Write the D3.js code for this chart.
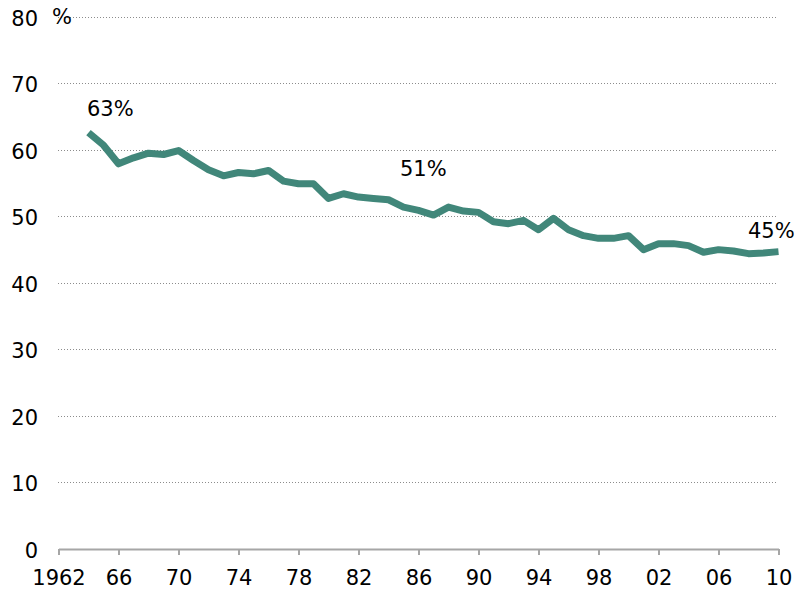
<!DOCTYPE html>
<html><head><meta charset="utf-8">
<script src="https://cdn.jsdelivr.net/npm/d3@7"></script>
<style>body{margin:0;background:#fff}svg{display:block}text{font-family:"DejaVu Sans",Verdana,sans-serif;fill:#000}</style>
</head><body><svg id="c" width="796" height="591"></svg>
<script>
const years = d3.range(1964, 2011);
const values = [62.6,60.7,57.9,58.8,59.5,59.3,59.9,58.4,57.0,56.1,56.6,56.4,56.9,55.3,54.9,
  54.9,52.7,53.4,52.9,52.7,52.5,51.4,50.9,50.2,51.4,50.8,50.6,49.2,48.9,49.4,48.0,
  49.7,48.0,47.1,46.7,46.7,47.1,45.0,45.9,45.9,45.6,44.6,45.0,44.8,44.4,44.5,44.7];
const xTicks = d3.range(1962, 2011, 4);
const xTickLabels = ["1962","66","70","74","78","82","86","90","94","98","02","06","10"];
const yTicks = [0,10,20,30,40,50,60,70,80];
const annotations = [{label:"63%", year:1964, value:63}, {label:"51%", year:1987, value:51}, {label:"45%", year:2009, value:45}];

const svg = d3.select("#c");
const x = d3.scaleLinear().domain([1962, 2010]).range([58.5, 778.5]);
const y = d3.scaleLinear().domain([0, 80]).range([549, 16.8]);

// gridlines
svg.append("g").selectAll("line").data(yTicks.filter(d => d > 0)).join("line")
  .attr("x1", 58).attr("x2", 778).attr("y1", d => Math.round(y(d)) + 0.5).attr("y2", d => Math.round(y(d)) + 0.5)
  .attr("stroke", "#8c8c8c").attr("stroke-width", 1).attr("stroke-dasharray", "1,2");

// y tick labels
svg.append("g").selectAll("text").data(yTicks).join("text")
  .attr("x", 38).attr("y", d => y(d) + 9).attr("text-anchor", "end")
  .style("font-size", "21px").text(d => d);

svg.append("text").attr("x", 52).attr("y", 24).style("font-size", "21px").text("%");

// x axis
const xAxis = d3.axisBottom(x).tickValues(xTicks).tickSize(6).tickSizeOuter(0)
  .tickFormat((d, i) => xTickLabels[i]);
const gx = svg.append("g").attr("transform", "translate(0,549)").call(xAxis);
gx.select(".domain").attr("stroke", "#a6a6a6").attr("stroke-width", 2);
gx.selectAll(".tick line").attr("stroke", "#a6a6a6").attr("stroke-width", 2);
gx.selectAll(".tick text").attr("y", 36).attr("dy", "0")
  .style("font-size", "21px").style("font-family", "'DejaVu Sans',Verdana,sans-serif").attr("fill", "#000");

// line
const line = d3.line().x((d, i) => x(years[i])).y(d => y(d));
svg.append("path").datum(values).attr("d", line).attr("fill", "none")
  .attr("stroke", "#41877a").attr("stroke-width", 7).attr("stroke-linejoin", "round").attr("stroke-linecap", "butt");

// annotations
const annPos = [[87, 116], [400, 176], [748, 238]];
svg.append("g").selectAll("text").data(annotations).join("text")
  .attr("x", (d, i) => annPos[i][0]).attr("y", (d, i) => annPos[i][1])
  .style("font-size", "21px").text(d => d.label);
</script></body></html>
